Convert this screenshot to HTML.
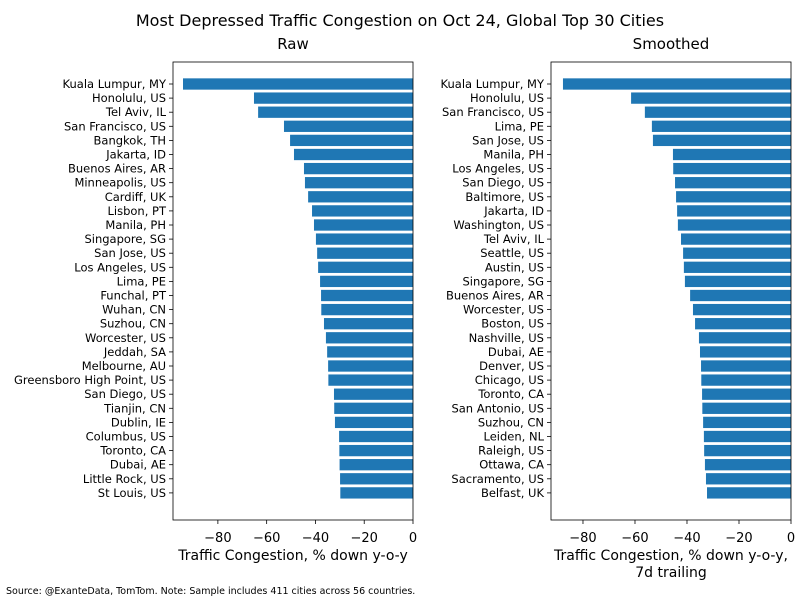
<!DOCTYPE html>
<html><head><meta charset="utf-8"><style>
body{margin:0;background:#fff;}
svg text{font-family:"DejaVu Sans","Liberation Sans",sans-serif;}
</style></head><body>
<svg id="chart" width="800" height="600" xmlns="http://www.w3.org/2000/svg">
<text x="400" y="26" font-size="16" text-anchor="middle">Most Depressed Traffic Congestion on Oct 24, Global Top 30 Cities</text>
<text x="6" y="594" font-size="9.5">Source: @ExanteData, TomTom.   Note: Sample includes 411 cities across 56 countries.</text>
</svg>
<script>
const rawCities=["Kuala Lumpur, MY","Honolulu, US","Tel Aviv, IL","San Francisco, US","Bangkok, TH","Jakarta, ID","Buenos Aires, AR","Minneapolis, US","Cardiff, UK","Lisbon, PT","Manila, PH","Singapore, SG","San Jose, US","Los Angeles, US","Lima, PE","Funchal, PT","Wuhan, CN","Suzhou, CN","Worcester, US","Jeddah, SA","Melbourne, AU","Greensboro High Point, US","San Diego, US","Tianjin, CN","Dublin, IE","Columbus, US","Toronto, CA","Dubai, AE","Little Rock, US","St Louis, US"];
const rawValues=[-94.3,-65.2,-63.5,-52.9,-50.4,-48.8,-44.7,-44.3,-43,-41.4,-40.6,-39.8,-39.3,-38.9,-38.1,-37.7,-37.6,-36.5,-35.7,-35.2,-34.8,-34.7,-32.4,-32.3,-32,-30.3,-30.2,-30.1,-29.9,-29.8];
const smCities=["Kuala Lumpur, MY","Honolulu, US","San Francisco, US","Lima, PE","San Jose, US","Manila, PH","Los Angeles, US","San Diego, US","Baltimore, US","Jakarta, ID","Washington, US","Tel Aviv, IL","Seattle, US","Austin, US","Singapore, SG","Buenos Aires, AR","Worcester, US","Boston, US","Nashville, US","Dubai, AE","Denver, US","Chicago, US","Toronto, CA","San Antonio, US","Suzhou, CN","Leiden, NL","Raleigh, US","Ottawa, CA","Sacramento, US","Belfast, UK"];
const smValues=[-87.7,-61.5,-56.2,-53.5,-53.1,-45.4,-45.3,-44.6,-44.2,-43.8,-43.5,-42.3,-41.5,-41.2,-40.8,-38.8,-37.7,-36.9,-35.4,-35,-34.6,-34.5,-34.2,-34.1,-33.8,-33.5,-33.4,-33.1,-32.7,-32.3];
const xTicks=[-80,-60,-40,-20,0];
const NS="http://www.w3.org/2000/svg";
const svg=document.getElementById('chart');
function mk(t,a,p){const e=document.createElementNS(NS,t);for(const k in a)e.setAttribute(k,a[k]);(p||svg).appendChild(e);return e;}
function panel(cities,values,left,right,xmin,title,xlab,name){
  const top=62,bottom=520;
  const g=mk('g',{});
  
  
  const xs=v=>left+(v-xmin)/(0-xmin)*(right-left);
  const ys=i=>84+i*14.1;
  values.forEach((v,i)=>{
    const r=mk('rect',{x:xs(v),y:ys(i)-5.65,width:xs(0)-xs(v),height:11.3,fill:'#1f77b4'},g);
    
    
    mk('line',{x1:left-4,x2:left,y1:ys(i),y2:ys(i),stroke:'#000','stroke-width':0.8},g);
    const t=mk('text',{x:left-7,y:ys(i)+4,'font-size':11.5,'text-anchor':'end'},g);
    t.textContent=cities[i];
    
    
  });
  xTicks.forEach(v=>{
    mk('line',{x1:xs(v),x2:xs(v),y1:bottom,y2:bottom+4,stroke:'#000','stroke-width':0.8},g);
    const t=mk('text',{x:xs(v),y:bottom+22,'font-size':13,'text-anchor':'middle'},g);
    t.textContent=(v<0?'\u2212'+(-v):v);
    
    
  });
  const fr=mk('rect',{x:left,y:top,width:right-left,height:bottom-top,fill:'none',stroke:'#000','stroke-width':0.8},g);
  
  
  const tt=mk('text',{x:(left+right)/2,y:49,'font-size':15,'text-anchor':'middle'},g);
  tt.textContent=title;
  
  
  xlab.forEach((l,k)=>{
    const xl=mk('text',{x:(left+right)/2,y:560+k*17,'font-size':14,'text-anchor':'middle'},g);
    xl.textContent=l;
    
    
  });
}
panel(rawCities,rawValues,173,413,-98.4,'Raw',['Traffic Congestion, % down y-o-y'],'raw');
panel(smCities,smValues,551,791,-92.3,'Smoothed',['Traffic Congestion, % down y-o-y,','7d trailing'],'smoothed');
</script>
</body></html>
